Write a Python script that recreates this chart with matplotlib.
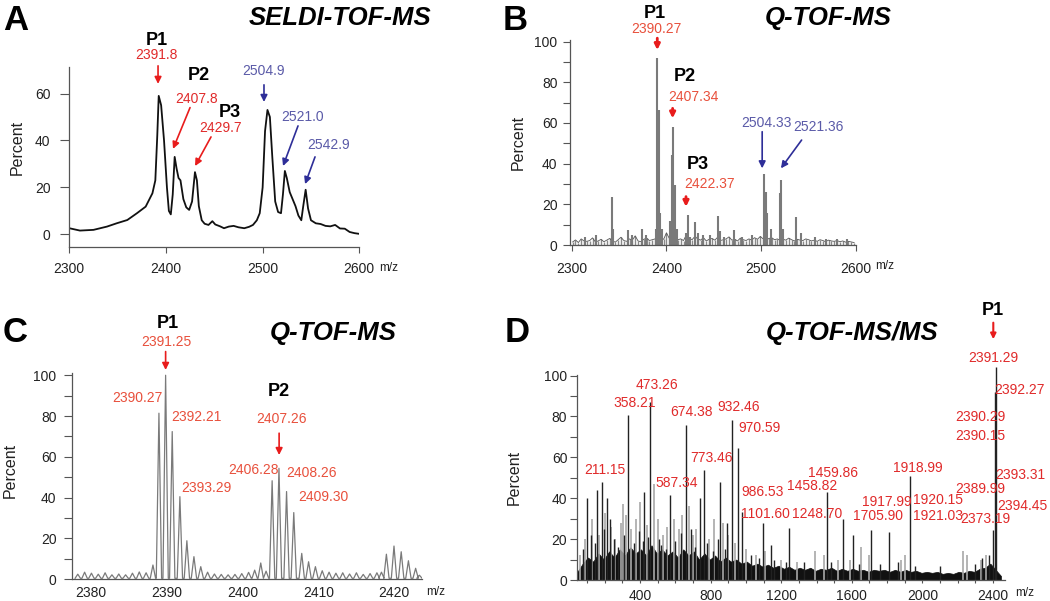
import numpy as np
import matplotlib.pyplot as plt

plt.rcParams['font.family'] = ['Liberation Sans', 'DejaVu Sans']

# ---- data ----
# A: SELDI-TOF-MS profile
a_mz = [2300, 2311, 2325, 2339, 2349, 2360, 2370, 2379, 2386, 2389,
        2391, 2392.5, 2395, 2398, 2401, 2403, 2405, 2407, 2409, 2411,
        2413, 2415, 2418, 2421, 2424, 2427, 2430, 2432, 2434, 2437,
        2440, 2444, 2448, 2451, 2456, 2460, 2465, 2470, 2475, 2481,
        2486, 2490, 2494, 2497, 2500, 2502.5, 2505, 2507.5, 2510, 2513,
        2516, 2519, 2521, 2523, 2525, 2528, 2531, 2534, 2537, 2540,
        2542, 2544.5, 2547, 2550, 2555, 2560, 2565, 2570, 2575, 2580,
        2585, 2590, 2595, 2600]
a_pct = [2.6, 1.6, 1.9, 3.3, 4.7, 6.1, 9.0, 11.8, 17.5, 23,
         42, 59, 55, 40, 20, 10, 8.5, 17, 33, 28,
         24, 23, 15, 11.5, 10.4, 14, 26.5, 23, 12, 6,
         4.5, 4.0, 5.6, 4.2, 3.4, 2.6, 3.3, 3.6, 3, 2.6,
         3.2, 4, 6, 9, 20, 44, 53, 50, 33, 14,
         9.5, 9, 17, 27, 24, 18, 15, 12, 8, 6,
         12, 19, 11, 6, 4.7, 4.4, 3.6, 3.4, 4, 2.5,
         2.4, 1, 0.5, 0.2]

# B: Q-TOF-MS sticks
b_mz = [2314, 2326, 2342.8, 2344, 2359.6, 2364, 2373.7, 2378, 2388.5, 2390.3,
        2392, 2393.5, 2395, 2404, 2405.5, 2407.2, 2409, 2411, 2420.5, 2422.3,
        2425, 2430, 2433, 2439, 2446, 2454.7, 2457, 2461, 2471.6, 2480,
        2490, 2502.5, 2504.6, 2506.4, 2510, 2519.4, 2520.8, 2523, 2536.3, 2542,
        2557, 2568, 2580, 2590]
b_pct = [4, 5, 23.8, 8, 7.4, 5, 7.8, 5, 8, 91.8,
         66.4, 15.6, 8, 12, 44.3, 58.2, 29.4, 8, 6, 14.8,
         4, 11.5, 6, 5, 5, 14.2, 7, 4, 7.4, 4,
         5, 34.9, 26.2, 15.6, 8, 25.4, 32, 8, 13.6, 6,
         4, 3, 3, 3]
b_noise = [1.5, 2.5, 1.2, 3, 2, 1.8, 2.2, 3.5, 1.5, 2,
           2.8, 1.6, 2.4, 3.2, 2, 1.4, 2.6, 3.8, 2.2, 1.8,
           3, 2.4, 4.5, 2, 1.6, 2.8, 3.4, 2.2, 2.6, 3,
           4, 3.5, 2.8, 6, 3.2, 2.4, 3.8, 2.6, 3, 2.2,
           5, 3.4, 2.6, 4.2, 3, 2.4, 3.6, 2, 2.8, 3.2,
           2.4, 3.8, 2.2, 2.6, 3, 4, 2.4, 2.8, 2, 3.4,
           2.6, 2.2, 3, 2.4, 3.6, 2.8, 4.2, 3, 2.4, 3.2,
           3.6, 2.6, 3, 2.2, 2.8, 2.4, 3.4, 2.6, 2, 2.8,
           2.4, 2.2, 3, 2.6, 2, 2.4, 1.8, 2.6, 2.2, 1.6,
           2.4, 2, 1.8, 2.2, 1.6, 2, 1.4, 1.8, 1.5, 1.2]
b_noise_mz = np.linspace(2301, 2598, len(b_noise))

# C: Q-TOF-MS zoom, isotope peaks
c_mz = [2378.3, 2379.2, 2380.1, 2381.0, 2381.9, 2382.8, 2383.7, 2384.6, 2385.5, 2386.4, 2387.3, 2388.2,
        2388.99, 2389.87, 2390.74, 2391.75, 2392.67, 2393.6, 2394.5, 2395.4, 2396.3, 2397.2, 2398.1,
        2399.0, 2399.9, 2400.8, 2401.6, 2402.4, 2403.1,
        2403.9, 2404.8, 2405.8, 2406.75, 2407.8, 2408.7, 2409.6, 2410.5, 2411.4, 2412.3, 2413.2,
        2414.1, 2415.0, 2415.9, 2416.8, 2417.7, 2418.3,
        2418.95, 2419.95, 2420.9, 2421.85, 2422.8, 2423.3]
c_pct = [2.5, 3.5, 3, 2.5, 3.2, 2.2, 2.6, 2.2, 3, 3.6, 3.2, 7,
         81.4, 100, 72.4, 40.5, 18.9, 11.1, 6.2, 3.5, 2.6, 2.4, 2.2,
         2.4, 2.8, 3.4, 4.5, 8, 4,
         48.3, 54.4, 43, 32.7, 12.7, 8.6, 6.2, 4.2, 3.5, 3, 3.2,
         2.6, 3.2, 2.4, 2.8, 3.2, 3.5,
         12.3, 16.3, 13.5, 9.1, 5.4, 2]

# D: Q-TOF-MS/MS fragments
d_mz_black = [101, 155, 183, 215, 334, 423, 457, 570, 660, 740,
              764, 853, 893, 923, 957, 980, 1095, 1142, 1244, 1461,
              1552, 1608, 1709, 1813, 1930, 2398, 2412, 2419]
d_pct_black = [40, 44, 48, 40, 80.8, 43, 87, 41.6, 75.9, 40,
               53.8, 48, 28, 78.3, 64.4, 33.4, 27.7, 17, 25.3, 43.2,
               29.7, 22, 24.5, 23.3, 50.9, 24.5, 92, 104]
d_mz_mid = [75, 120, 145, 195, 230, 250, 275, 310, 365, 395,
            415, 445, 505, 520, 545, 600, 630, 690, 710, 780,
            815, 840, 880, 1030, 1075, 1160, 1230, 1330, 1480, 1640,
            1760, 1860, 1960, 2100, 2300, 2340, 2375]
d_pct_mid = [15, 22, 18, 25, 30, 20, 16, 22, 18, 24,
             19, 21, 20, 17, 15, 19, 23, 25, 16, 18,
             14, 20, 15, 12, 11, 10, 9, 9, 9, 8,
             8, 9, 7, 7, 8, 11, 12]
d_mz_grey = [60, 90, 130, 170, 200, 235, 260, 290, 305, 320,
             350, 380, 400, 440, 480, 500, 530, 555, 590, 620,
             640, 675, 700, 720, 790, 820, 870, 900, 940, 1000,
             1060, 1110, 1200, 1290, 1390, 1440, 1520, 1590, 1650, 1700,
             1880, 1900, 2230, 2250, 2330, 2360]
d_pct_grey = [12, 20, 30, 22, 33, 26, 20, 28, 37, 32,
              25, 30, 38, 27, 47, 30, 22, 26, 30, 25,
              32, 36, 22, 25, 20, 30, 28, 22, 18, 15,
              12, 14, 10, 9, 14, 12, 10, 10, 16, 12,
              10, 12, 14, 12, 10, 12]
# dense low-level fragment band (upper envelope, sampled every 30 m/z)
d_band = [4, 8, 11, 9, 13, 10, 14, 11, 15, 12,
          16, 13, 15, 12, 17, 13, 15, 12, 14, 11,
          15, 12, 14, 10, 13, 10, 12, 9, 11, 9,
          10, 8, 9, 7, 8, 6.5, 7.5, 6, 7, 5.5,
          6.5, 5, 6, 5, 6, 4.5, 5.5, 5, 6, 4.5,
          5.5, 4.5, 5.5, 4.5, 5, 4, 5, 4.5, 5, 4,
          5, 4, 5, 4, 4.5, 3.5, 4, 3.5, 4, 3,
          3.5, 3, 4, 3.5, 4.5, 4, 5.5, 6, 8, 5,
          2]
d_band_mz = np.linspace(45, 2445, len(d_band))

RED_A = '#e02a2a'
RED = '#e8503c'
RED_ARR = '#e81c1c'
BLUE_T = '#5a5aa8'
BLUE_ARR = '#2e2e98'
AXC = '#555555'

W, H = 1050, 601


def box(l, t, r, b):
    return [l / W, 1 - b / H, (r - l) / W, (b - t) / H]


def px(x, y):
    return x / W, 1 - y / H


def style(ax, ytl, ypad, xtl, xpad):
    for s in ['top', 'right']:
        ax.spines[s].set_visible(False)
    for s in ['left', 'bottom']:
        ax.spines[s].set_color(AXC)
        ax.spines[s].set_linewidth(0.9)
    ax.tick_params(axis='y', length=ytl, width=0.8, color=AXC, pad=ypad,
                   labelsize=10, labelcolor='#222222')
    ax.tick_params(axis='x', length=xtl, width=0.8, color=AXC, pad=xpad,
                   labelsize=10, labelcolor='#222222')
    ax.tick_params(which='minor', length=ytl, width=0.8, color=AXC)


def arrow(ax, xy, xytext, color, lw=1.2, ms=10):
    ax.annotate('', xy=xy, xytext=xytext, annotation_clip=False,
                arrowprops=dict(arrowstyle='-|>', color=color, lw=lw,
                                mutation_scale=ms, shrinkA=0, shrinkB=0))


def lab(ax, x, y, s, color, size=10, ha='center', bold=False):
    ax.text(x, y, s, color=color, fontsize=size, ha=ha, va='center',
            fontweight='bold' if bold else 'normal', clip_on=False)


fig = plt.figure(figsize=(10.5, 6.01), dpi=100)

# ================= A =================
ax = fig.add_axes(box(69.3, 67, 359.3, 247))
ax.plot(a_mz, a_pct, color='#111111', lw=1.3)
ax.set_xlim(2300, 2600)
ax.set_ylim(-5.4, 71.3)
ax.set_xticks([2300, 2400, 2500, 2600])
ax.set_yticks([0, 20, 40, 60])
style(ax, 6.5, 7, 4.5, 6)
lab(ax, 2390.7, 82.4, 'P1', 'black', 13, bold=True)
lab(ax, 2389.7, 76.5, '2391.8', RED_A)
arrow(ax, (2391.8, 64.1), (2391.8, 71.8), RED_ARR)
lab(ax, 2434.2, 67.5, 'P2', 'black', 13, bold=True)
lab(ax, 2432.1, 57.7, '2407.8', RED_A)
arrow(ax, (2407.3, 36.4), (2424.9, 54.0), RED_ARR)
lab(ax, 2466.2, 52.1, 'P3', 'black', 13, bold=True)
lab(ax, 2456.9, 45.3, '2429.7', RED_A)
arrow(ax, (2430.1, 29.1), (2446.6, 41.5), RED_ARR)
lab(ax, 2501.4, 69.6, '2504.9', BLUE_T)
arrow(ax, (2501.4, 56.4), (2501.4, 63.7), BLUE_ARR)
lab(ax, 2541.8, 50, '2521.0', BLUE_T)
arrow(ax, (2521.1, 29.1), (2536.6, 46.2), BLUE_ARR)
lab(ax, 2568.7, 38.1, '2542.9', BLUE_T)
arrow(ax, (2543.9, 21.4), (2554.2, 33), BLUE_ARR)

# ================= B =================
ax = fig.add_axes(box(570, 40, 856, 245))
ax.vlines(b_noise_mz, 0, b_noise, color='#8a8a8a', lw=1.0)
ax.plot(b_noise_mz, b_noise, color='#555555', lw=0.6)
ax.vlines(b_mz, 0, b_pct, color='#7a7a7a', lw=1.5)
ax.set_xlim(2298.2, 2600)
ax.set_ylim(0, 100.8)
ax.set_xticks([2300, 2400, 2500, 2600])
ax.set_yticks([0, 20, 40, 60, 80, 100])
ax.set_yticks(np.arange(10, 100, 20), minor=True)
style(ax, 5, 4, 4, 8)
lab(ax, 2387.9, 114.0, 'P1', 'black', 13, bold=True)
lab(ax, 2389.7, 106.1, '2390.27', RED)
arrow(ax, (2390.3, 95.9), (2390.3, 101.7), RED_ARR, lw=2, ms=8)
lab(ax, 2419.5, 82.8, 'P2', 'black', 13, bold=True)
lab(ax, 2428.3, 72.9, '2407.34', RED)
arrow(ax, (2406.5, 62.3), (2406.5, 67.2), RED_ARR, lw=2, ms=8)
lab(ax, 2433.5, 39.4, 'P3', 'black', 13, bold=True)
lab(ax, 2445.9, 29.9, '2422.37', RED)
arrow(ax, (2420.6, 18.8), (2420.6, 23.8), RED_ARR, lw=2, ms=8)
lab(ax, 2505.7, 59.9, '2504.33', BLUE_T)
lab(ax, 2560.1, 58.2, '2521.36', BLUE_T)
arrow(ax, (2501.0, 37.7), (2501.0, 55.7), BLUE_ARR)
arrow(ax, (2520.8, 37.7), (2542.6, 51.6), BLUE_ARR)

# ================= C =================
ax = fig.add_axes(box(71.7, 373, 421.7, 579.3))
cx, cy = [], []
for m, h in zip(c_mz, c_pct):
    cx += [m - 0.35, m, m + 0.35]
    cy += [0.5, h, 0.5]
ax.plot(cx, cy, color='#7a7a7a', lw=0.9)
ax.set_xlim(2377.5, 2423.6)
ax.set_ylim(0, 101.1)
ax.set_xticks([2380, 2390, 2400, 2410, 2420])
ax.set_yticks([0, 20, 40, 60, 80, 100])
ax.set_yticks(np.arange(10, 100, 20), minor=True)
style(ax, 6, 5, 0, 5)
lab(ax, 2390.13, 125.5, 'P1', 'black', 13, bold=True)
lab(ax, 2390.0, 116.5, '2391.25', RED)
arrow(ax, (2389.87, 102.6), (2389.87, 111.6), RED_ARR)
lab(ax, 2386.13, 88.7, '2390.27', RED)
lab(ax, 2393.95, 79.7, '2392.21', RED)
lab(ax, 2395.26, 44.6, '2393.29', RED)
lab(ax, 2404.8, 92, 'P2', 'black', 13, bold=True)
lab(ax, 2405.13, 78.4, '2407.26', RED)
arrow(ax, (2404.82, 60.9), (2404.82, 71.6), RED_ARR)
lab(ax, 2401.4, 53.6, '2406.28', RED)
lab(ax, 2409.08, 52.3, '2408.26', RED)
lab(ax, 2410.6, 40.2, '2409.30', RED)

# ================= D =================
ax = fig.add_axes(box(577, 375, 1005, 580))
ax.vlines(d_mz_grey, 0, d_pct_grey, color='#a8a8a8', lw=1.2)
ax.fill_between(d_band_mz, 0, d_band, color='#111111', lw=0.5)
ax.vlines(d_mz_mid, 0, d_pct_mid, color='#222222', lw=1.0)
ax.vlines(d_mz_black, 0, d_pct_black, color='#222222', lw=1.0, clip_on=False)
ax.set_xlim(43, 2468)
ax.set_ylim(0, 100.3)
ax.set_xticks([400, 800, 1200, 1600, 2000, 2400])
ax.set_xticks(np.arange(100, 2401, 100), minor=True)
ax.set_yticks([0, 20, 40, 60, 80, 100])
ax.set_yticks(np.arange(10, 100, 20), minor=True)
style(ax, 5, 2, 2.5, 4)
ax.tick_params(axis='x', which='minor', length=2)
d_labels = [(494.6, 95.4, '473.26'), (371.6, 86.5, '358.21'), (692.9, 82.4, '674.38'),
            (960.8, 84.8, '932.46'), (1079.8, 74.3, '970.59'), (806.2, 59.6, '773.46'),
            (201.6, 53.8, '211.15'), (607.9, 47.3, '587.34'), (1495, 52.2, '1459.86'),
            (1372.7, 46, '1458.82'), (1092.8, 43.2, '986.53'), (1973.3, 54.7, '1918.99')]
for x, y, s in d_labels:
    lab(ax, x, y, s, RED_A)
d_labels_left = [(975, 32.3, '1101.60'), (1262, 32.3, '1248.70'), (1655, 38.3, '1917.99'),
                 (1945, 39.2, '1920.15'), (1605, 31.5, '1705.90'), (1945, 31.5, '1921.03'),
                 (2215, 30.0, '2373.19'), (2425, 36.0, '2394.45'), (2184.6, 44.5, '2389.99'),
                 (2411.3, 51.4, '2393.31'), (2184.6, 70.6, '2390.15'), (2184.6, 79.9, '2390.29'),
                 (2407.4, 93, '2392.27')]
for x, y, s in d_labels_left:
    lab(ax, x, y, s, RED_A, ha='left')
lab(ax, 2401.7, 108.5, '2391.29', RED_A)
lab(ax, 2401.7, 131.8, 'P1', 'black', 13, bold=True)
arrow(ax, (2401.7, 117.8), (2401.7, 125.9), RED_ARR, lw=1.5, ms=8)

# ---- panel letters, titles, axis labels ----
for x, y, s in [(3, 20, 'A'), (503, 20, 'B'), (3, 333, 'C'), (505, 333, 'D')]:
    fig.text(*px(x, y), s, fontsize=25, fontweight='bold', ha='left', va='center')
for x, y, s in [(340, 18, 'SELDI-TOF-MS'), (828.3, 18.3, 'Q-TOF-MS'),
                (333.3, 333.3, 'Q-TOF-MS'), (851.7, 333.3, 'Q-TOF-MS/MS')]:
    fig.text(*px(x, y), s, fontsize=18.5, fontweight='bold', fontstyle='italic',
             ha='center', va='center')
for x, y in [(17.5, 147), (518, 142), (10, 470), (514, 477)]:
    fig.text(*px(x, y), 'Percent', fontsize=11.5, rotation=90, ha='center', va='center',
             color='#222222')
for x, y in [(389, 268), (885, 266), (436, 592), (1025, 593)]:
    fig.text(*px(x, y), 'm/z', fontsize=8.5, ha='center', va='center', color='#222222')

fig.savefig('out.png', dpi=100)
